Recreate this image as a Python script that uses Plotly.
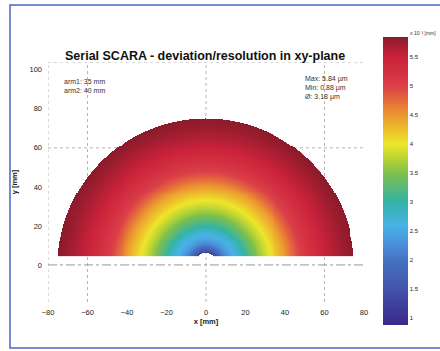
import numpy as np
import plotly.graph_objects as go

# Radial deviation profile (radius in mm -> deviation in µm)
radius_mm = [6, 8, 10, 12, 15, 18, 21, 24, 27, 30, 33, 36, 40, 44, 48, 52, 56, 60, 64, 68, 72, 75]
deviation_um = [1.2, 1.7, 2.1, 2.35, 2.6, 2.8, 3.1, 3.35, 3.6, 3.8, 4.0, 4.2, 4.45, 4.75, 5.0, 5.2, 5.35, 5.5, 5.6, 5.7, 5.8, 5.84]

x_ticks = [-80, -60, -40, -20, 0, 20, 40, 60, 80]
y_ticks = [0, 20, 40, 60, 80, 100]
cbar_ticks = [1, 1.5, 2, 2.5, 3, 3.5, 4, 4.5, 5, 5.5]
stats_text = ["Max: 5.84 µm", "Min: 0.88 µm", "Ø: 3.18 µm"]
arm_text = ["arm1: 35 mm", "arm2: 40 mm"]
z_min, z_max = 0.88, 5.84
r_outer = 75
r_inner = 6.2
y_base = 5

# grid for the workspace field
gx = np.arange(-76, 76.01, 0.5)
gy = np.arange(y_base, 76.01, 0.5)
X, Y = np.meshgrid(gx, gy)
R = np.hypot(X, Y)
Z = np.interp(R, radius_mm, deviation_um)
Z[(R > r_outer) | (R < r_inner)] = np.nan

def nv(v):
    return (v - z_min) / (z_max - z_min)

cscale = [
    [0.0, "#3a2a8a"],
    [nv(1.0), "#3d2f93"],
    [nv(1.5), "#4353ab"],
    [nv(2.0), "#4672c2"],
    [nv(2.3), "#4a93dc"],
    [nv(2.6), "#48b2e6"],
    [nv(3.0), "#33b3a6"],
    [nv(3.5), "#7fc04a"],
    [nv(3.8), "#c6d832"],
    [nv(4.0), "#eee52a"],
    [nv(4.5), "#ec9630"],
    [nv(5.0), "#db3f48"],
    [nv(5.5), "#c9223a"],
    [1.0, "#8c1b2b"],
]

font = "Arial, Liberation Sans, sans-serif"
tick_col = "#1a1a1a"

fig = go.Figure()
fig.add_trace(go.Heatmap(
    x=gx, y=gy, z=Z, zmin=z_min, zmax=z_max, colorscale=cscale,
    zsmooth=False, hoverongaps=False,
    colorbar=dict(
        x=(383 - 48) / 316, xanchor="left", y=(302 - 181) / 240, yanchor="middle",
        len=288, lenmode="pixels", thickness=25, thicknessmode="pixels",
        tickvals=cbar_ticks, ticktext=[str(t) for t in cbar_ticks],
        ticks="", outlinewidth=0,
        tickfont=dict(size=6, color=tick_col, family=font),
        xpad=0, ypad=0,
    ),
))

grid_col = "#b5b5b5"
shapes = []
for gxv in [-60, 0, 60]:
    shapes.append(dict(type="line", x0=gxv, x1=gxv, y0=-19, y1=104, xref="x", yref="y",
                       line=dict(color=grid_col, width=1, dash="dot"), layer="below"))
shapes.append(dict(type="line", x0=-80, x1=-80, y0=-19, y1=104, xref="x", yref="y",
                   line=dict(color=grid_col, width=1, dash="dot"), layer="below"))
for gyv in [60, 104]:
    shapes.append(dict(type="line", x0=-80, x1=80, y0=gyv, y1=gyv, xref="x", yref="y",
                       line=dict(color=grid_col, width=1, dash="dot"), layer="below"))
shapes.append(dict(type="line", x0=-80, x1=80, y0=0, y1=0, xref="x", yref="y",
                   line=dict(color="#999", width=1, dash="dashdot"), layer="below"))
# outer frame
shapes.append(dict(type="rect", xref="paper", yref="paper",
                   x0=(10 - 48) / 316, x1=(445 - 48) / 316,
                   y0=(302 - 348) / 240, y1=(302 - 5) / 240,
                   line=dict(color="#4a66c4", width=1.5)))

annotations = [
    dict(text="<b>Serial SCARA - deviation/resolution in xy-plane</b>", x=(205 - 48) / 316, y=(302 - 47) / 240,
         xref="paper", yref="paper", showarrow=False, font=dict(size=12.5, family=font, color="#111")),
    dict(text="<br>".join(arm_text), x=-73, y=91.5, xref="x", yref="y", xanchor="left", yanchor="middle",
         showarrow=False, align="left", font=dict(size=7, family=font, color="#333")),
    dict(text="<br>".join(stats_text), x=49, y=90.5, xref="x", yref="y", xanchor="left", yanchor="middle",
         showarrow=False, align="left", font=dict(size=7, family=font, color="#333")),
    dict(text="x 10⁻³ [mm]", x=(438 - 48) / 316, y=(302 - 33) / 240, xref="paper", yref="paper",
         xanchor="right", yanchor="middle", showarrow=False, font=dict(size=5, family=font, color="#333")),
]

fig.update_layout(
    width=440, height=351,
    margin=dict(l=48, r=76, t=62, b=49),
    paper_bgcolor="white", plot_bgcolor="white",
    shapes=shapes, annotations=annotations, showlegend=False,
    xaxis=dict(range=[-80, 80], tickvals=x_ticks, showgrid=False, zeroline=False,
               ticks="", ticklabelstandoff=4,
               tickfont=dict(size=7.5, family=font, color=tick_col),
               title=dict(text="<b>x [mm]</b>", font=dict(size=7.5, family=font, color=tick_col), standoff=0)),
    yaxis=dict(range=[-19, 104], tickvals=y_ticks, showgrid=False, zeroline=False,
               ticks="", ticklabelstandoff=5,
               tickfont=dict(size=7.5, family=font, color=tick_col),
               title=dict(text="<b>y [mm]</b>", font=dict(size=7.5, family=font, color=tick_col), standoff=10)),
)

fig.write_html("out.html", config={"displayModeBar": False},
               post_script="document.body.style.margin='0';document.body.style.overflow='hidden';")
